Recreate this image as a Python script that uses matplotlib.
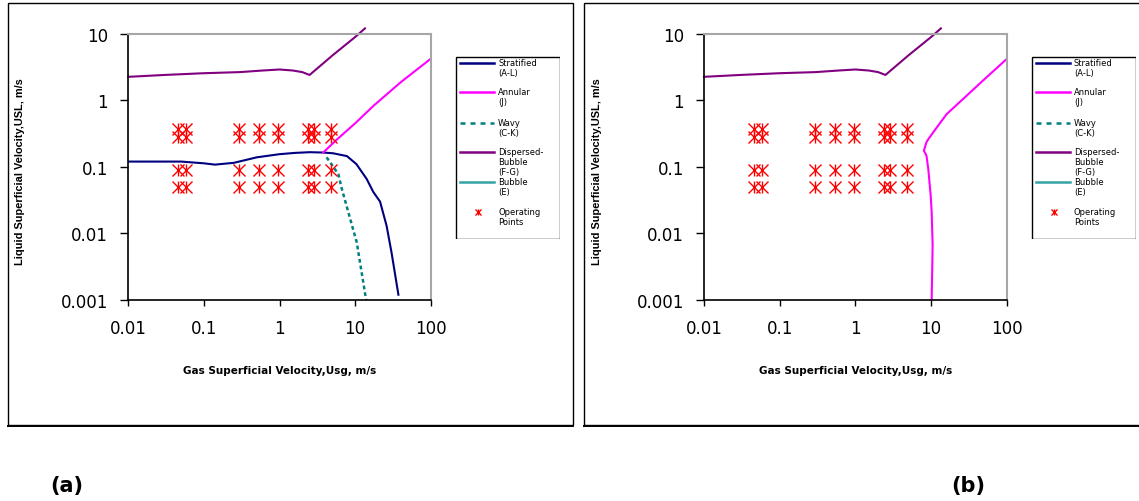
import matplotlib
matplotlib.use("Agg")
import matplotlib.pyplot as plt
from matplotlib.patches import Rectangle
from matplotlib.lines import Line2D
import numpy as np

# flow pattern boundaries (Usg, Usl in m/s)
usg_disp = [0.01, 0.03, 0.1, 0.3, 0.6, 1.0, 1.5, 2.0, 2.5, 5.0, 10.0, 13.5]
usl_disp = [2.25, 2.4, 2.55, 2.65, 2.8, 2.9, 2.8, 2.65, 2.4, 4.7, 8.9, 12.0]

usg_strat = [0.01, 0.05, 0.1, 0.14, 0.25, 0.5, 1.0, 1.6, 2.5, 3.8, 5.1, 7.8,
             10.4, 14.2, 17.4, 21.4, 26.1, 30.3, 37.4]
usl_strat = [0.12, 0.12, 0.113, 0.108, 0.115, 0.139, 0.155, 0.162, 0.166, 0.164, 0.16, 0.145,
             0.11, 0.066, 0.042, 0.030, 0.013, 0.0052, 0.0012]

usg_wavy = [4.2, 6.0, 6.6, 7.7, 10.5, 14.0]
usl_wavy = [0.139, 0.078, 0.049, 0.026, 0.0074, 0.001]

usg_ann_a = [3.8, 5.8, 10.0, 17.6, 40.0, 100.0]
usl_ann_a = [0.165, 0.26, 0.45, 0.83, 1.86, 4.2]

usg_ann_b = [10.2, 10.5, 10.2, 9.9, 9.2, 8.7, 8.05, 8.7, 9.2, 11.9, 16.1, 29.5, 54.0, 100.0]
usl_ann_b = [0.001, 0.0066, 0.021, 0.037, 0.093, 0.148, 0.175, 0.234, 0.26, 0.39, 0.62, 1.17, 2.21, 4.17]

# test matrix
usg_op = [0.046, 0.058, 0.29, 0.54, 0.96, 2.4, 2.85, 4.8]
usl_op = [0.05, 0.09, 0.28, 0.37]

x_ticks = [0.01, 0.1, 1, 10, 100]
x_ticklabels = ["0.01", "0.1", "1", "10", "100"]
y_ticks = [0.001, 0.01, 0.1, 1, 10]
y_ticklabels = ["0.001", "0.01", "0.1", "1", "10"]

key_labels = ["Stratified\n(A-L)", "Annular\n(J)", "Wavy\n(C-K)",
              "Dispersed-\nBubble\n(F-G)", "Bubble\n(E)", "Operating\nPoints"]

C_STRAT = "#000080"
C_ANN = "#FF00FF"
C_WAVY = "#008080"
C_DISP = "#800080"
C_BUB = "#33A3A3"
C_OP = "#FF0000"

W, H = 1139, 502
fig = plt.figure(figsize=(W / 100, H / 100), dpi=100)


def px(x0, y0, x1, y1):
    # pixel box (top-left origin) -> figure fraction rect
    return [x0 / W, 1 - y1 / H, (x1 - x0) / W, (y1 - y0) / H]


def frame(x0, y0, x1, y1):
    fig.patches.append(Rectangle((x0 / W, 1 - y1 / H), (x1 - x0) / W, (y1 - y0) / H,
                                 transform=fig.transFigure, fill=False,
                                 edgecolor="black", lw=1.0))
    fig.add_artist(Line2D([x0 / W, x1 / W], [1 - y1 / H - 0.002] * 2,
                          transform=fig.transFigure, color="black", lw=1.4))


def operating_points(ax):
    gx, gy = np.meshgrid(usg_op, usl_op)
    ax.plot(gx.ravel(), gy.ravel(), ls="none", marker="x", ms=8, mew=1.0, color=C_OP)
    ax.plot(gx.ravel(), gy.ravel(), ls="none", marker="|", ms=8, mew=1.0, color=C_OP)


def style_axes(ax):
    ax.set_xscale("log")
    ax.set_yscale("log")
    ax.set_xlim(0.01, 100)
    ax.set_ylim(0.001, 10)
    ax.set_xticks(x_ticks, x_ticklabels)
    ax.set_yticks(y_ticks, y_ticklabels)
    ax.minorticks_off()
    ax.tick_params(axis="x", direction="out", length=4, width=1, pad=10, labelsize=12)
    ax.tick_params(axis="y", direction="out", length=5.5, width=1, pad=9, labelsize=12)
    for s in ("top", "right"):
        ax.spines[s].set_color("#A6A6A6")
        ax.spines[s].set_linewidth(1.5)
    for s in ("left", "bottom"):
        ax.spines[s].set_color("black")
        ax.spines[s].set_linewidth(1.2)


def draw_key(rect):
    k = fig.add_axes(rect)
    k.set_xlim(0, 105)
    k.set_ylim(183, 0)
    k.axis("off")
    k.add_patch(Rectangle((0.5, 0.5), 104, 182, fill=False, edgecolor="black", lw=1.0))
    rows = [7, 36.3, 67, 95.7, 125.7, 156.3]
    styles = [(C_STRAT, "-"), (C_ANN, "-"), (C_WAVY, (0, (2, 2))), (C_DISP, "-"), (C_BUB, "-")]
    for (c, ls), yy in zip(styles, rows):
        k.plot([5, 39], [yy, yy], color=c, ls=ls, lw=1.8)
    k.plot([22.7], [rows[5]], ls="none", marker="x", ms=4, mew=1.0, color=C_OP)
    k.plot([22.7], [rows[5]], ls="none", marker="|", ms=4, mew=1.0, color=C_OP)
    for lab, yy in zip(key_labels, rows):
        k.text(43, yy - 5, lab, fontsize=6, va="top", ha="left", linespacing=1.15)


# ---- panel (a)
ax1 = fig.add_axes(px(128.3, 34.7, 430.7, 301))
ax1.plot(usg_strat, usl_strat, color=C_STRAT, lw=1.5)
ax1.plot(usg_ann_a, usl_ann_a, color=C_ANN, lw=1.5)
ax1.plot(usg_wavy, usl_wavy, color=C_WAVY, lw=1.8, ls=(0, (1.5, 1.2)))
ax1.plot(usg_disp, usl_disp, color=C_DISP, lw=1.5, clip_on=False)
operating_points(ax1)
style_axes(ax1)

# ---- panel (b)
ax2 = fig.add_axes(px(704, 34.7, 1006.7, 301))
ax2.plot(usg_ann_b, usl_ann_b, color=C_ANN, lw=1.5)
ax2.plot(usg_disp, usl_disp, color=C_DISP, lw=1.5, clip_on=False)
operating_points(ax2)
style_axes(ax2)

draw_key(px(455, 57, 560, 240))
draw_key(px(1031, 57, 1136, 240))

frame(7.5, 3.5, 573, 426)
frame(584.5, 3.5, 1142, 426)

for cx, cyl in ((279.5, 20), (855.3, 597)):
    fig.text(cx / W, 1 - 370.5 / H, "Gas Superficial Velocity,Usg, m/s",
             ha="center", va="center", fontsize=7.5, fontweight="bold")
    fig.text(cyl / W, 1 - 172 / H, "Liquid Superficial Velocity,USL, m/s",
             ha="center", va="center", rotation=90, fontsize=7.9, fontweight="bold",
             family="Liberation Sans")

fig.text(67 / W, 1 - 486 / H, "(a)", ha="center", va="center", fontsize=15, fontweight="bold")
fig.text(968.7 / W, 1 - 486 / H, "(b)", ha="center", va="center", fontsize=15, fontweight="bold")

fig.savefig("out.png", dpi=100)
